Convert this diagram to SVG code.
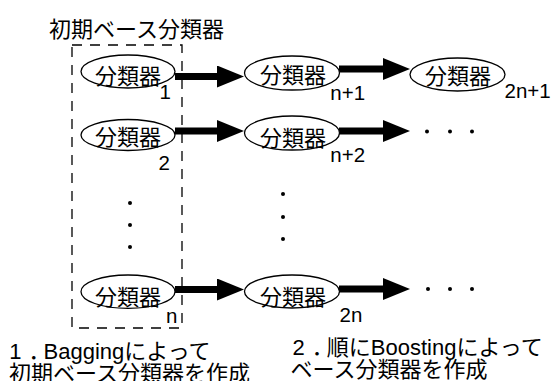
<svg xmlns="http://www.w3.org/2000/svg" width="551" height="381" viewBox="0 0 551 381">
<style>
  text { font-family: "Liberation Sans", "Noto Sans CJK JP", sans-serif; fill: #000; }
  .jp { font-size: 22px; }
  .node ellipse { fill: #fff; stroke: #000; stroke-width: 1.3; }
  .node text { font-size: 22px; text-anchor: middle; }
  .lbl { font-size: 20.5px; }
  .arrow { stroke: #000; stroke-width: 7; fill: none; marker-end: url(#head); }
  .dot { fill: #000; }
</style>
<defs>
  <marker id="head" markerUnits="userSpaceOnUse" viewBox="0 0 27 22" refX="0" refY="11" markerWidth="27" markerHeight="22" orient="auto">
    <path d="M0,0 L27,11 L0,22 Z" fill="#000"/>
  </marker>
</defs>
<rect width="551" height="381" fill="#fff"/>

<text id="title" class="jp" x="49" y="36.5">初期ベース分類器</text>
<rect id="group-box" x="72" y="45" width="110" height="283" fill="none" stroke="#000" stroke-width="1.3" stroke-dasharray="10 8"/>

<g id="connectors">
  <line class="arrow" x1="175" y1="76.5" x2="217" y2="76.5"/>
  <line class="arrow" x1="339" y1="69" x2="383" y2="69"/>
  <line class="arrow" x1="175" y1="131" x2="217" y2="131"/>
  <line class="arrow" x1="339" y1="131" x2="383" y2="131"/>
  <line class="arrow" x1="175" y1="289.5" x2="217" y2="289.5"/>
  <line class="arrow" x1="339" y1="289" x2="383" y2="289"/>
</g>

<g id="c1" class="node">
  <ellipse cx="128" cy="71.5" rx="47" ry="16.5"/>
  <text x="128" y="83.5">分類器</text>
</g>
<g id="cn1" class="node">
  <ellipse cx="292" cy="73" rx="47.5" ry="17"/>
  <text x="293" y="83">分類器</text>
</g>
<g id="c2n1" class="node">
  <ellipse cx="457.5" cy="74.5" rx="47.5" ry="16.5"/>
  <text x="458" y="84">分類器</text>
</g>
<g id="c2" class="node">
  <ellipse cx="128" cy="135" rx="47" ry="15.5"/>
  <text x="128" y="145">分類器</text>
</g>
<g id="cn2" class="node">
  <ellipse cx="292" cy="133" rx="47.5" ry="17"/>
  <text x="293" y="146">分類器</text>
</g>
<g id="cn" class="node">
  <ellipse cx="128" cy="291.7" rx="47" ry="16.7"/>
  <text x="128" y="305">分類器</text>
</g>
<g id="c2n" class="node">
  <ellipse cx="292" cy="291.5" rx="47.5" ry="16.5"/>
  <text x="293" y="305">分類器</text>
</g>

<g id="labels">
  <text class="lbl" x="159.5" y="99">1</text>
  <text class="lbl" x="330.3" y="100">n+1</text>
  <text class="lbl" x="504.5" y="98">2n+1</text>
  <text class="lbl" x="158.5" y="170">2</text>
  <text class="lbl" x="330.3" y="161.5">n+2</text>
  <text class="lbl" x="166" y="323">n</text>
  <text class="lbl" x="339.5" y="322">2n</text>
</g>

<g id="ellipsis-dots">
  <circle class="dot" cx="130" cy="203" r="2"/>
  <circle class="dot" cx="130" cy="225" r="2"/>
  <circle class="dot" cx="130" cy="247" r="2"/>
  <circle class="dot" cx="283" cy="194" r="2"/>
  <circle class="dot" cx="283" cy="217" r="2"/>
  <circle class="dot" cx="283" cy="239" r="2"/>
  <circle class="dot" cx="427" cy="131.5" r="2"/>
  <circle class="dot" cx="450" cy="131.5" r="2"/>
  <circle class="dot" cx="472" cy="131.5" r="2"/>
  <circle class="dot" cx="428" cy="289" r="2"/>
  <circle class="dot" cx="450" cy="289" r="2"/>
  <circle class="dot" cx="472" cy="289" r="2"/>
</g>

<text class="jp" x="9.3" y="359">1<tspan dx="7">．</tspan><tspan dx="-7">Baggingによって</tspan></text>
<text class="jp" x="9" y="381">初期ベース分類器を作成</text>
<text class="jp" x="292.6" y="355">2<tspan dx="7">．</tspan><tspan dx="-7">順にBoostingによって</tspan></text>
<text class="jp" x="290.5" y="376.7">ベース分類器を作成</text>
</svg>
